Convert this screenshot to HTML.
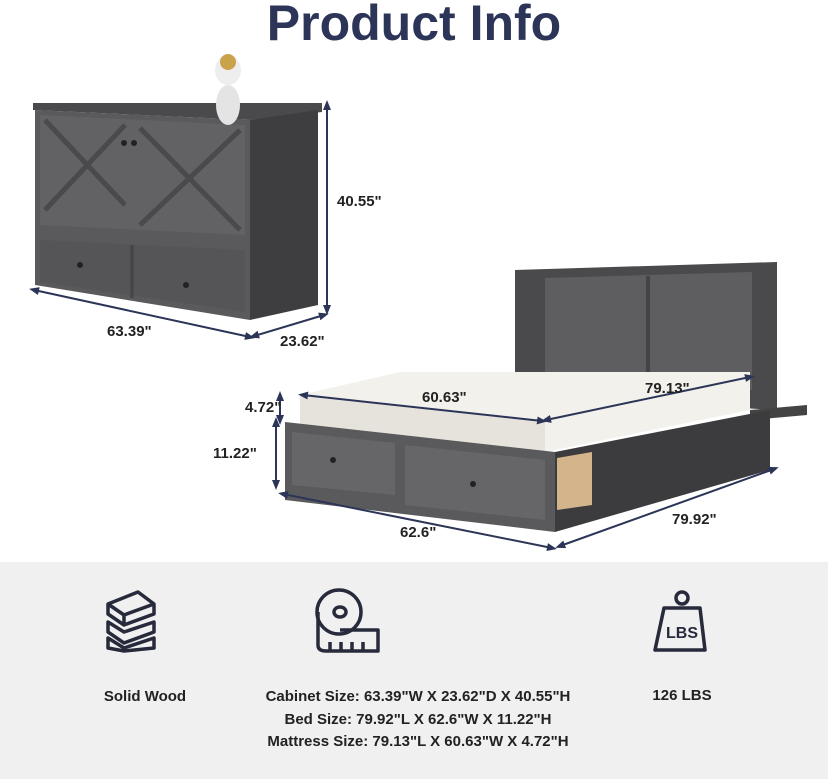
<!DOCTYPE html>
<html><head><meta charset="utf-8"><style>
html,body{margin:0;padding:0;width:828px;height:779px;overflow:hidden;background:#fff;font-family:"Liberation Sans",sans-serif;}
</style></head><body>
<svg width="828" height="779" viewBox="0 0 828 779" xmlns="http://www.w3.org/2000/svg" font-family="Liberation Sans, sans-serif">
<defs>
<marker id="a" markerUnits="userSpaceOnUse" markerWidth="10" markerHeight="10" refX="5" refY="5" orient="auto-start-reverse"><path d="M0,1 L10,5 L0,9z" fill="#2c3557"/></marker>
</defs>
<rect width="828" height="779" fill="#fff"/>
<rect y="562" width="828" height="217" fill="#f0f0f1"/>
<text x="414" y="40" text-anchor="middle" font-size="50" font-weight="bold" fill="#2c3557">Product Info</text>

<!-- cabinet -->
<polygon points="33,103 322,103 322,112 250,120 33,110" fill="#4a4a4c"/>
<polygon points="35,110 250,120 250,320 35,285" fill="#5a5a5c"/>
<polygon points="250,120 318,110 318,305 250,320" fill="#3e3e40"/>
<polygon points="40,115 245,125 245,235 40,225" fill="#626264"/>
<path d="M45,120 L125,205 M125,125 L45,210 M140,128 L240,230 M240,130 L140,225" stroke="#4a4a4c" stroke-width="5"/>
<polygon points="40,240 245,250 245,312 40,282" fill="#555557"/>
<line x1="132" y1="245" x2="132" y2="298" stroke="#444" stroke-width="3"/>
<circle cx="80" cy="265" r="3" fill="#222"/><circle cx="186" cy="285" r="3" fill="#222"/>
<circle cx="124" cy="143" r="3" fill="#222"/><circle cx="134" cy="143" r="3" fill="#222"/>
<ellipse cx="228" cy="105" rx="12" ry="20" fill="#e4e4e4"/>
<ellipse cx="228" cy="70" rx="13" ry="15" fill="#eee"/>
<circle cx="228" cy="62" r="8" fill="#c9a24a"/>

<g stroke="#2c3557" stroke-width="2" fill="none">
<line x1="327" y1="105" x2="327" y2="310" marker-start="url(#a)" marker-end="url(#a)"/>
<line x1="34" y1="290" x2="250" y2="337" marker-start="url(#a)" marker-end="url(#a)"/>
<line x1="254" y1="336" x2="324" y2="315" marker-start="url(#a)" marker-end="url(#a)"/>
</g>
<g font-size="15" font-weight="bold" fill="#222">
<text x="337" y="206">40.55"</text>
<text x="107" y="336">63.39"</text>
<text x="280" y="346">23.62"</text>
</g>

<!-- bed -->
<polygon points="515,270 777,262 777,410 515,395" fill="#4a4a4c"/>
<polygon points="545,278 752,272 752,390 545,380" fill="#5e5e60"/>
<line x1="648" y1="276" x2="648" y2="385" stroke="#444" stroke-width="4"/>
<polygon points="300,395 400,372 750,372 750,410 545,452 300,440" fill="#f3f1ec"/>
<polygon points="300,395 545,420 545,452 300,440" fill="#e6e3dc"/>
<polygon points="750,410 807,405 807,415 750,420" fill="#444"/>
<polygon points="285,422 555,452 555,532 285,500" fill="#5a5a5c"/>
<polygon points="555,452 770,410 770,470 555,532" fill="#3c3c3e"/>
<polygon points="292,432 395,443 395,495 292,485" fill="#666668"/>
<polygon points="405,445 545,460 545,520 405,505" fill="#666668"/>
<circle cx="333" cy="460" r="3" fill="#222"/><circle cx="473" cy="484" r="3" fill="#222"/>
<polygon points="557,458 592,452 592,505 557,510" fill="#d4b48a"/>
<g stroke="#2c3557" stroke-width="2" fill="none">
<line x1="280" y1="396" x2="280" y2="420" marker-start="url(#a)" marker-end="url(#a)"/>
<line x1="276" y1="422" x2="276" y2="485" marker-start="url(#a)" marker-end="url(#a)"/>
<line x1="303" y1="395" x2="542" y2="421" marker-start="url(#a)" marker-end="url(#a)"/>
<line x1="546" y1="420" x2="750" y2="377" marker-start="url(#a)" marker-end="url(#a)"/>
<line x1="283" y1="494" x2="552" y2="548" marker-start="url(#a)" marker-end="url(#a)"/>
<line x1="560" y1="546" x2="774" y2="469" marker-start="url(#a)" marker-end="url(#a)"/>
</g>
<g font-size="15" font-weight="bold" fill="#222">
<text x="245" y="412">4.72"</text>
<text x="213" y="458">11.22"</text>
<text x="422" y="402">60.63"</text>
<text x="645" y="393">79.13"</text>
<text x="400" y="537">62.6"</text>
<text x="672" y="524">79.92"</text>
</g>

<!-- icons -->
<g stroke="#262a3a" stroke-width="3.5" fill="none" stroke-linejoin="round">
<path d="M108,604 L138,592 L154,604 L154,614 L124,625 L108,614 Z M108,604 L124,615 L154,604 M124,615 L124,625"/>
<path d="M108,622 L124,632 L154,622 L154,632 L124,643 L108,632 Z"/>
<path d="M108,638 L124,648 L154,638 L154,648 L124,651 L108,648 Z"/>
<circle cx="339" cy="612" r="22"/>
<ellipse cx="340" cy="612" rx="6" ry="5"/>
<path d="M318,612 L318,645 Q318,651 326,651 L378,651 L378,630 L340,630"/>
<path d="M330,651 L330,642 M341,651 L341,642 M352,651 L352,642 M363,651 L363,642"/>
<circle cx="682" cy="598" r="6"/>
<path d="M664,608 L700,608 L705,650 L655,650 Z"/>
</g>
<text x="682" y="638" text-anchor="middle" font-size="16" font-weight="bold" fill="#262a3a">LBS</text>

<g font-size="15" font-weight="bold" fill="#222" text-anchor="middle">
<text x="145" y="701">Solid Wood</text>
<text x="682" y="700">126 LBS</text>
<text x="418" y="701">Cabinet Size: 63.39"W X 23.62"D X 40.55"H</text>
<text x="418" y="724">Bed Size: 79.92"L X 62.6"W X 11.22"H</text>
<text x="418" y="746">Mattress Size: 79.13"L X 60.63"W X 4.72"H</text>
</g>
</svg>
</body></html>
